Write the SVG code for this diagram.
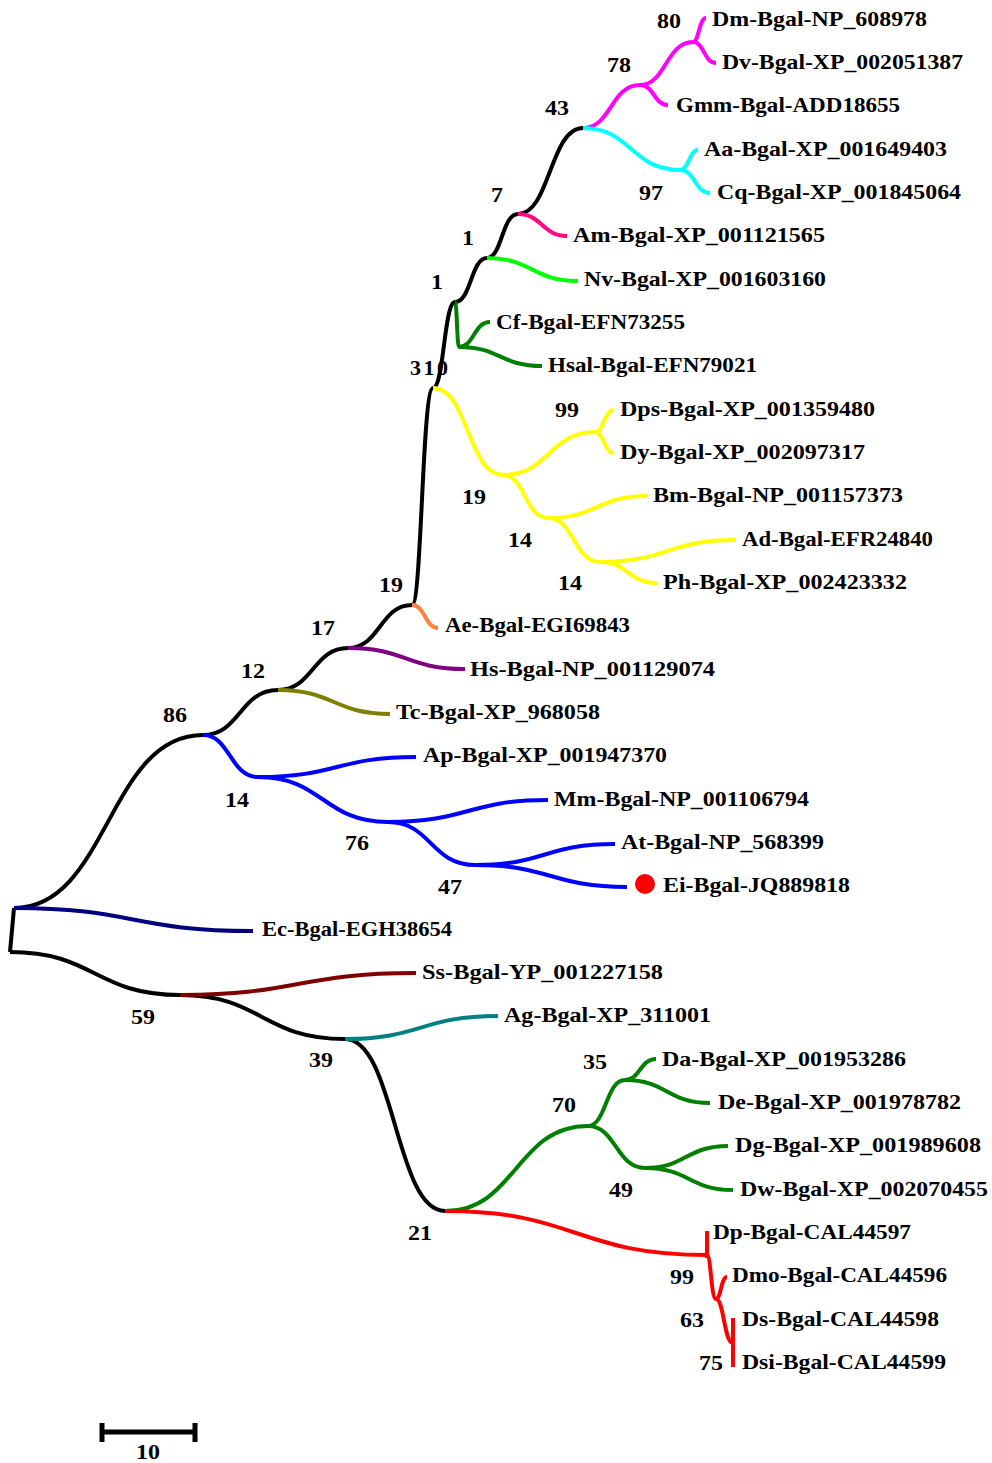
<svg xmlns="http://www.w3.org/2000/svg" width="992" height="1463" viewBox="0 0 992 1463">
<style>
text{font-family:"Liberation Serif","Times New Roman",serif;font-weight:bold;font-size:22px;fill:#000}
.b{text-anchor:middle}
path{fill:none;stroke-width:4;stroke-linecap:butt}
.k{stroke:#000}.mg{stroke:#FF00FF}.cy{stroke:#00FFFF}.pk{stroke:#FF0A7F}.lm{stroke:#00FF00}
.dg{stroke:#007F00}.ye{stroke:#FFFF00}.or{stroke:#FF8040}.pu{stroke:#800080}.ol{stroke:#808000}
.bl{stroke:#0000FF}.nv{stroke:#000080}.dr{stroke:#800000}.tl{stroke:#008080}.rd{stroke:#FF0000}
</style>
<rect width="992" height="1463" fill="#fff"/>
<g id="tips">
<g id="Dm"><text x="712" y="26" textLength="215" lengthAdjust="spacingAndGlyphs">Dm-Bgal-NP_608978</text></g>
<g id="Dv"><text x="722" y="69" textLength="241" lengthAdjust="spacingAndGlyphs">Dv-Bgal-XP_002051387</text></g>
<g id="Gmm"><text x="676" y="112" textLength="224" lengthAdjust="spacingAndGlyphs">Gmm-Bgal-ADD18655</text></g>
<g id="Aa"><text x="704" y="156" textLength="243" lengthAdjust="spacingAndGlyphs">Aa-Bgal-XP_001649403</text></g>
<g id="Cq"><text x="717" y="199" textLength="244" lengthAdjust="spacingAndGlyphs">Cq-Bgal-XP_001845064</text></g>
<g id="Am"><text x="573" y="242" textLength="252" lengthAdjust="spacingAndGlyphs">Am-Bgal-XP_001121565</text></g>
<g id="Nv"><text x="584" y="286" textLength="242" lengthAdjust="spacingAndGlyphs">Nv-Bgal-XP_001603160</text></g>
<g id="Cf"><text x="496" y="329" textLength="189" lengthAdjust="spacingAndGlyphs">Cf-Bgal-EFN73255</text></g>
<g id="Hsal"><text x="548" y="372" textLength="209" lengthAdjust="spacingAndGlyphs">Hsal-Bgal-EFN79021</text></g>
<g id="Dps"><text x="620" y="416" textLength="255" lengthAdjust="spacingAndGlyphs">Dps-Bgal-XP_001359480</text></g>
<g id="Dy"><text x="620" y="459" textLength="245" lengthAdjust="spacingAndGlyphs">Dy-Bgal-XP_002097317</text></g>
<g id="Bm"><text x="653" y="502" textLength="250" lengthAdjust="spacingAndGlyphs">Bm-Bgal-NP_001157373</text></g>
<g id="Ad"><text x="742" y="546" textLength="191" lengthAdjust="spacingAndGlyphs">Ad-Bgal-EFR24840</text></g>
<g id="Ph"><text x="663" y="589" textLength="244" lengthAdjust="spacingAndGlyphs">Ph-Bgal-XP_002423332</text></g>
<g id="Ae"><text x="445" y="632" textLength="185" lengthAdjust="spacingAndGlyphs">Ae-Bgal-EGI69843</text></g>
<g id="Hs"><text x="470" y="676" textLength="245" lengthAdjust="spacingAndGlyphs">Hs-Bgal-NP_001129074</text></g>
<g id="Tc"><text x="396" y="719" textLength="204" lengthAdjust="spacingAndGlyphs">Tc-Bgal-XP_968058</text></g>
<g id="Ap"><text x="423" y="762" textLength="244" lengthAdjust="spacingAndGlyphs">Ap-Bgal-XP_001947370</text></g>
<g id="Mm"><text x="554" y="806" textLength="255" lengthAdjust="spacingAndGlyphs">Mm-Bgal-NP_001106794</text></g>
<g id="At"><text x="621" y="849" textLength="203" lengthAdjust="spacingAndGlyphs">At-Bgal-NP_568399</text></g>
<g id="Ei"><circle cx="645" cy="884" r="10" fill="#FF0000"/><text x="663" y="892" textLength="187" lengthAdjust="spacingAndGlyphs">Ei-Bgal-JQ889818</text></g>
<g id="Ec"><text x="262" y="936" textLength="190" lengthAdjust="spacingAndGlyphs">Ec-Bgal-EGH38654</text></g>
<g id="Ss"><text x="422" y="979" textLength="241" lengthAdjust="spacingAndGlyphs">Ss-Bgal-YP_001227158</text></g>
<g id="Ag"><text x="504" y="1022" textLength="207" lengthAdjust="spacingAndGlyphs">Ag-Bgal-XP_311001</text></g>
<g id="Da"><text x="662" y="1066" textLength="244" lengthAdjust="spacingAndGlyphs">Da-Bgal-XP_001953286</text></g>
<g id="De"><text x="718" y="1109" textLength="243" lengthAdjust="spacingAndGlyphs">De-Bgal-XP_001978782</text></g>
<g id="Dg"><text x="735" y="1152" textLength="246" lengthAdjust="spacingAndGlyphs">Dg-Bgal-XP_001989608</text></g>
<g id="Dw"><text x="740" y="1196" textLength="248" lengthAdjust="spacingAndGlyphs">Dw-Bgal-XP_002070455</text></g>
<g id="Dp"><text x="713" y="1239" textLength="198" lengthAdjust="spacingAndGlyphs">Dp-Bgal-CAL44597</text></g>
<g id="Dmo"><text x="732" y="1282" textLength="215" lengthAdjust="spacingAndGlyphs">Dmo-Bgal-CAL44596</text></g>
<g id="Ds"><text x="742" y="1326" textLength="197" lengthAdjust="spacingAndGlyphs">Ds-Bgal-CAL44598</text></g>
<g id="Dsi"><text x="742" y="1369" textLength="204" lengthAdjust="spacingAndGlyphs">Dsi-Bgal-CAL44599</text></g>
</g>
<g id="support">
<g id="n80"><text class="b" x="669" y="28" textLength="24" lengthAdjust="spacingAndGlyphs">80</text></g>
<g id="n78"><text class="b" x="619" y="72" textLength="24" lengthAdjust="spacingAndGlyphs">78</text></g>
<g id="n43"><text class="b" x="557" y="115" textLength="24" lengthAdjust="spacingAndGlyphs">43</text></g>
<g id="n97"><text class="b" x="651" y="200" textLength="24" lengthAdjust="spacingAndGlyphs">97</text></g>
<g id="n7"><text class="b" x="497" y="202" textLength="12" lengthAdjust="spacingAndGlyphs">7</text></g>
<g id="n1b"><text class="b" x="468" y="245" textLength="12" lengthAdjust="spacingAndGlyphs">1</text></g>
<g id="n1a"><text class="b" x="437" y="289" textLength="12" lengthAdjust="spacingAndGlyphs">1</text></g>
<g id="n310"><text x="410" y="375" textLength="38" lengthAdjust="spacing">310</text></g>
<g id="n99y"><text class="b" x="567" y="417" textLength="24" lengthAdjust="spacingAndGlyphs">99</text></g>
<g id="n19y"><text class="b" x="474" y="504" textLength="24" lengthAdjust="spacingAndGlyphs">19</text></g>
<g id="n14a"><text class="b" x="520" y="547" textLength="24" lengthAdjust="spacingAndGlyphs">14</text></g>
<g id="n14b"><text class="b" x="570" y="590" textLength="24" lengthAdjust="spacingAndGlyphs">14</text></g>
<g id="n19"><text class="b" x="391" y="592" textLength="24" lengthAdjust="spacingAndGlyphs">19</text></g>
<g id="n17"><text class="b" x="323" y="635" textLength="24" lengthAdjust="spacingAndGlyphs">17</text></g>
<g id="n12"><text class="b" x="253" y="678" textLength="24" lengthAdjust="spacingAndGlyphs">12</text></g>
<g id="n86"><text class="b" x="175" y="722" textLength="24" lengthAdjust="spacingAndGlyphs">86</text></g>
<g id="n14"><text class="b" x="237" y="807" textLength="24" lengthAdjust="spacingAndGlyphs">14</text></g>
<g id="n76"><text class="b" x="357" y="850" textLength="24" lengthAdjust="spacingAndGlyphs">76</text></g>
<g id="n47"><text class="b" x="450" y="894" textLength="24" lengthAdjust="spacingAndGlyphs">47</text></g>
<g id="n59"><text class="b" x="143" y="1024" textLength="24" lengthAdjust="spacingAndGlyphs">59</text></g>
<g id="n39"><text class="b" x="321" y="1067" textLength="24" lengthAdjust="spacingAndGlyphs">39</text></g>
<g id="n35"><text class="b" x="595" y="1069" textLength="24" lengthAdjust="spacingAndGlyphs">35</text></g>
<g id="n70"><text class="b" x="564" y="1112" textLength="24" lengthAdjust="spacingAndGlyphs">70</text></g>
<g id="n49"><text class="b" x="621" y="1197" textLength="24" lengthAdjust="spacingAndGlyphs">49</text></g>
<g id="n21"><text class="b" x="420" y="1240" textLength="24" lengthAdjust="spacingAndGlyphs">21</text></g>
<g id="n99r"><text class="b" x="682" y="1284" textLength="24" lengthAdjust="spacingAndGlyphs">99</text></g>
<g id="n63"><text class="b" x="692" y="1327" textLength="24" lengthAdjust="spacingAndGlyphs">63</text></g>
<g id="n75"><text class="b" x="711" y="1370" textLength="24" lengthAdjust="spacingAndGlyphs">75</text></g>
</g>
<g id="connectors">
<path class="k" d="M14 908 L10 952"/>
<path class="k" d="M14 908 C108 908 108 735 203 735"/>
<path class="k" d="M203 735 C240 735 240 690 278 690"/>
<path class="k" d="M278 690 C313 690 313 648 348 648"/>
<path class="k" d="M348 648 C380 648 380 605 412 605"/>
<path class="k" d="M412 605 C422 605 422 388 433 388"/>
<path class="k" d="M433 388 C444 388 444 302 455 302"/>
<path class="k" d="M455 302 C471 302 471 258 487 258"/>
<path class="k" d="M487 258 C502 258 502 214 518 214"/>
<path class="k" d="M518 214 C550 214 550 128 583 128"/>
<path class="k" d="M10 952 C95 952 95 995 180 995"/>
<path class="k" d="M180 995 C262 995 262 1039 345 1039"/>
<path class="k" d="M345 1039 C395 1039 395 1211 445 1211"/>
<path class="mg" d="M583 128 C611 128 611 85 640 85"/>
<path class="mg" d="M640 85 C666 85 666 42 693 42"/>
<path class="mg" d="M693 42 C699 42 699 18 706 18"/>
<path class="mg" d="M693 42 C704 42 704 63 716 63"/>
<path class="mg" d="M640 85 C654 85 654 105 668 105"/>
<path class="cy" d="M583 128 C631 128 631 170 680 170"/>
<path class="cy" d="M680 170 C689 170 689 150 698 150"/>
<path class="cy" d="M680 170 C695 170 695 193 710 193"/>
<path class="pk" d="M518 214 C542 214 542 236 567 236"/>
<path class="lm" d="M487 258 C532 258 532 281 578 281"/>
<path class="dg" d="M455 302 C457 302 457 347 459 347"/>
<path class="dg" d="M459 347 C474 347 474 322 490 322"/>
<path class="dg" d="M459 347 C500 347 500 366 542 366"/>
<path class="ye" d="M433 388 C468 388 468 475 503 475"/>
<path class="ye" d="M503 475 C549 475 549 432 595 432"/>
<path class="ye" d="M595 432 C604 432 604 410 614 410"/>
<path class="ye" d="M595 432 C604 432 604 453 614 453"/>
<path class="ye" d="M503 475 C525 475 525 518 548 518"/>
<path class="ye" d="M548 518 C597 518 597 496 647 496"/>
<path class="ye" d="M548 518 C574 518 574 562 600 562"/>
<path class="ye" d="M600 562 C667 562 667 540 735 540"/>
<path class="ye" d="M600 562 C628 562 628 583 657 583"/>
<path class="or" d="M412 605 C425 605 425 628 438 628"/>
<path class="pu" d="M348 648 C406 648 406 669 465 669"/>
<path class="ol" d="M278 690 C334 690 334 714 390 714"/>
<path class="bl" d="M203 735 C230 735 230 777 258 777"/>
<path class="bl" d="M258 777 C337 777 337 757 416 757"/>
<path class="bl" d="M258 777 C323 777 323 822 388 822"/>
<path class="bl" d="M388 822 C468 822 468 800 548 800"/>
<path class="bl" d="M388 822 C431 822 431 865 475 865"/>
<path class="bl" d="M475 865 C545 865 545 844 615 844"/>
<path class="bl" d="M475 865 C551 865 551 887 627 887"/>
<path class="nv" d="M14 908 C133 908 133 931 253 931"/>
<path class="dr" d="M180 995 C298 995 298 973 416 973"/>
<path class="tl" d="M345 1039 C421 1039 421 1016 498 1016"/>
<path class="dg" d="M445 1211 C516 1211 516 1126 588 1126"/>
<path class="dg" d="M588 1126 C606 1126 606 1080 625 1080"/>
<path class="dg" d="M625 1080 C640 1080 640 1059 656 1059"/>
<path class="dg" d="M625 1080 C667 1080 667 1103 710 1103"/>
<path class="dg" d="M588 1126 C616 1126 616 1168 645 1168"/>
<path class="dg" d="M645 1168 C686 1168 686 1146 728 1146"/>
<path class="dg" d="M645 1168 C689 1168 689 1190 733 1190"/>
<path class="rd" d="M445 1211 C576 1211 576 1255 707 1255"/>
<path class="rd" d="M707 1231 L707 1258"/>
<path class="rd" d="M707 1255 C711 1255 711 1299 716 1299"/>
<path class="rd" d="M716 1299 C721 1299 721 1277 727 1277"/>
<path class="rd" d="M716 1299 C724 1299 724 1343 733 1343"/>
<path class="rd" d="M733 1318 L733 1367"/>
</g>
<g id="scalebar">
<path class="k" d="M100 1432 L197 1432 M102 1423 L102 1442 M195 1423 L195 1442" style="stroke-width:5"/>
<text class="b" x="148" y="1459" textLength="24" lengthAdjust="spacingAndGlyphs">10</text>
</g>
</svg>
